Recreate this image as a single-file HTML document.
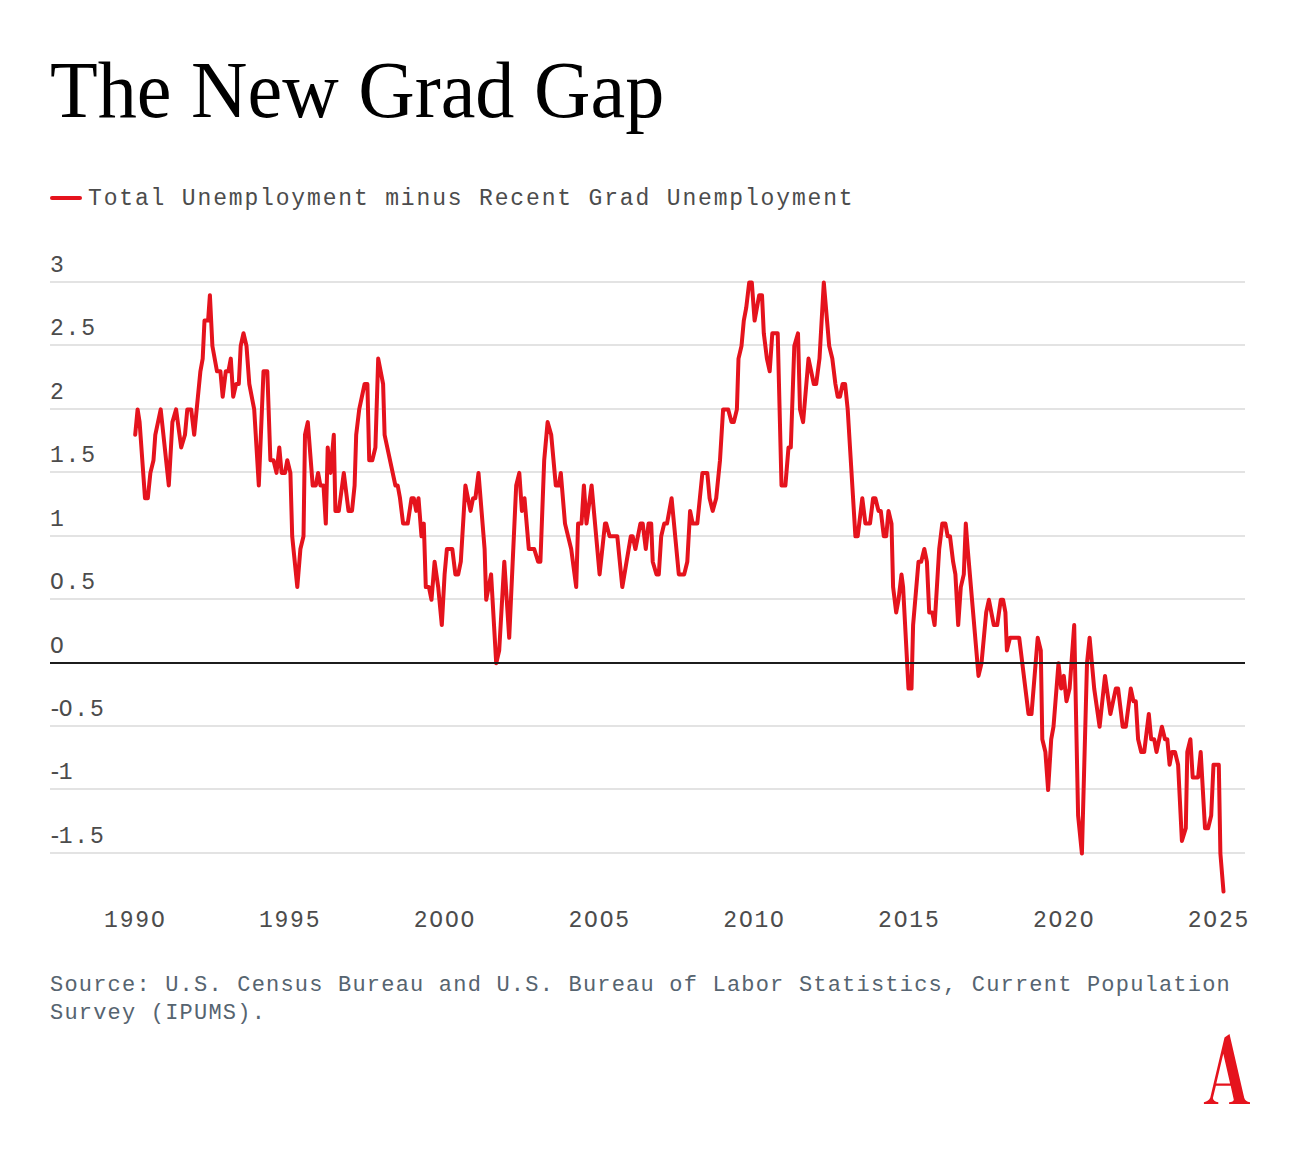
<!DOCTYPE html>
<html><head><meta charset="utf-8"><style>
html,body{margin:0;padding:0;background:#fff;width:1300px;height:1162px;overflow:hidden;position:relative}
.t{position:absolute;left:50px;top:50px;font-family:"Liberation Serif",serif;font-size:81px;color:#000;white-space:pre;transform:scaleX(0.965);transform-origin:0 0;line-height:1}
.lg{position:absolute;left:88px;top:187.8px;font-family:"Liberation Mono",monospace;font-size:23px;letter-spacing:1.84px;color:#4c4c4c;white-space:pre;line-height:1}
.yl{position:absolute;left:50px;font-family:"Liberation Mono",monospace;font-size:23px;letter-spacing:1.8px;color:#4c4c4c;white-space:pre;line-height:1}
.xl{position:absolute;top:909.5px;width:80px;text-align:center;font-family:"Liberation Mono",monospace;font-size:23px;letter-spacing:1.8px;color:#4c4c4c;white-space:pre;line-height:1}
.src{position:absolute;left:50px;top:972px;font-family:"Liberation Mono",monospace;font-size:22px;letter-spacing:1.2px;color:#566470;white-space:pre;line-height:28px}
svg{position:absolute;left:0;top:0}
.mn{margin-left:-2px;letter-spacing:-3.1px}
</style></head><body>
<div class="t">The New Grad Gap</div>
<svg width="1300" height="1162" viewBox="0 0 1300 1162">
<line x1="52" x2="80" y1="198" y2="198" stroke="#e5131d" stroke-width="4" stroke-linecap="round"/>
<line x1="50" x2="1245" y1="282.0" y2="282.0" stroke="#e3e3e3" stroke-width="2"/>
<line x1="50" x2="1245" y1="345.0" y2="345.0" stroke="#e3e3e3" stroke-width="2"/>
<line x1="50" x2="1245" y1="409.0" y2="409.0" stroke="#e3e3e3" stroke-width="2"/>
<line x1="50" x2="1245" y1="472.0" y2="472.0" stroke="#e3e3e3" stroke-width="2"/>
<line x1="50" x2="1245" y1="536.0" y2="536.0" stroke="#e3e3e3" stroke-width="2"/>
<line x1="50" x2="1245" y1="599.0" y2="599.0" stroke="#e3e3e3" stroke-width="2"/>
<line x1="50" x2="1245" y1="726.0" y2="726.0" stroke="#e3e3e3" stroke-width="2"/>
<line x1="50" x2="1245" y1="789.0" y2="789.0" stroke="#e3e3e3" stroke-width="2"/>
<line x1="50" x2="1245" y1="853.0" y2="853.0" stroke="#e3e3e3" stroke-width="2"/>

<path d="M135.2,434.8 L137.6,409.4 L139.6,422.1 L145.0,498.2 L147.8,498.2 L150.4,472.9 L153.5,460.2 L155.3,434.8 L160.7,409.4 L168.8,485.5 L172.4,422.1 L176.1,409.4 L181.2,447.5 L185.0,434.8 L187.3,409.4 L191.2,409.4 L194.2,434.8 L200.4,371.3 L202.7,358.6 L204.5,320.6 L208.1,320.6 L209.9,295.2 L212.4,346.0 L217.0,371.3 L220.4,371.3 L222.7,396.7 L225.8,371.3 L228.4,371.3 L230.8,358.6 L233.2,396.7 L236.1,384.0 L238.8,384.0 L240.7,346.0 L243.5,333.3 L246.5,346.0 L249.3,384.0 L254.2,409.4 L258.8,485.5 L263.5,371.3 L267.3,371.3 L270.4,460.2 L273.5,460.2 L276.5,472.9 L279.3,447.5 L281.6,472.9 L285.0,472.9 L287.3,460.2 L290.4,472.9 L292.2,536.3 L297.3,587.1 L300.4,549.0 L303.5,536.3 L305.0,434.8 L307.8,422.1 L312.7,485.5 L315.8,485.5 L318.1,472.9 L320.4,485.5 L323.5,485.5 L325.8,523.6 L327.7,447.5 L330.5,472.9 L333.8,434.8 L335.4,510.9 L338.8,510.9 L343.8,472.9 L348.5,510.9 L352.0,510.9 L354.6,485.5 L356.2,434.8 L359.2,409.4 L364.6,384.0 L367.4,384.0 L369.2,460.2 L372.3,460.2 L375.4,447.5 L378.2,358.6 L383.1,384.0 L384.6,434.8 L395.4,485.5 L397.7,485.5 L400.0,498.2 L403.1,523.6 L407.7,523.6 L411.5,498.2 L413.8,498.2 L416.2,510.9 L418.5,498.2 L421.5,536.3 L423.8,523.6 L425.8,587.1 L428.9,587.1 L431.5,599.8 L434.6,561.7 L438.2,587.1 L441.8,625.1 L444.6,574.4 L446.9,549.0 L452.3,549.0 L455.4,574.4 L458.2,574.4 L460.8,561.7 L465.4,485.5 L470.5,510.9 L473.1,498.2 L475.4,498.2 L478.5,472.9 L484.6,549.0 L486.2,599.8 L491.1,574.4 L496.2,663.2 L499.2,650.5 L504.3,561.7 L509.2,637.8 L516.2,485.5 L519.3,472.9 L521.9,510.9 L524.5,498.2 L528.8,549.0 L534.2,549.0 L538.1,561.7 L540.4,561.7 L544.2,460.2 L547.6,422.1 L551.2,434.8 L555.8,485.5 L558.8,485.5 L560.8,472.9 L565.0,523.6 L571.2,549.0 L576.2,587.1 L578.1,523.6 L581.5,523.6 L583.9,485.5 L586.5,523.6 L591.6,485.5 L599.6,574.4 L605.0,523.6 L606.2,523.6 L609.6,536.3 L617.3,536.3 L622.3,587.1 L630.8,536.3 L632.7,536.3 L635.4,549.0 L640.4,523.6 L642.7,523.6 L645.8,549.0 L648.5,523.6 L651.2,523.6 L652.7,561.7 L656.5,574.4 L658.8,574.4 L661.2,536.3 L664.2,523.6 L667.0,523.6 L671.6,498.2 L678.8,574.4 L684.2,574.4 L687.3,561.7 L690.1,510.9 L692.7,523.6 L697.3,523.6 L702.4,472.9 L707.3,472.9 L709.6,498.2 L712.7,510.9 L716.2,498.2 L720.0,460.2 L723.1,409.4 L728.2,409.4 L731.5,422.1 L733.8,422.1 L736.9,409.4 L738.5,358.6 L741.5,346.0 L743.8,320.6 L746.2,307.9 L749.2,282.5 L751.8,282.5 L754.6,320.6 L759.2,295.2 L762.0,295.2 L763.8,333.3 L766.9,358.6 L769.7,371.3 L772.3,333.3 L777.7,333.3 L781.5,485.5 L785.4,485.5 L788.5,447.5 L790.8,447.5 L794.3,346.0 L798.0,333.3 L800.0,409.4 L803.1,422.1 L808.5,358.6 L813.8,384.0 L816.2,384.0 L819.5,358.6 L823.8,282.5 L829.2,346.0 L832.3,358.6 L835.4,384.0 L837.7,396.7 L840.0,396.7 L842.6,384.0 L845.1,384.0 L847.7,409.4 L850.0,447.5 L855.4,536.3 L857.7,536.3 L862.3,498.2 L865.4,523.6 L870.0,523.6 L873.1,498.2 L875.4,498.2 L878.5,510.9 L880.8,510.9 L883.8,536.3 L886.2,536.3 L888.5,510.9 L891.5,523.6 L893.1,587.1 L896.2,612.4 L898.5,599.8 L901.5,574.4 L903.1,587.1 L908.5,688.6 L911.5,688.6 L913.1,625.1 L918.5,561.7 L921.2,561.7 L924.3,549.0 L926.9,561.7 L929.2,612.4 L932.3,612.4 L934.6,625.1 L939.2,549.0 L942.3,523.6 L945.4,523.6 L947.7,536.3 L950.0,536.3 L953.1,561.7 L955.4,574.4 L958.2,625.1 L960.8,587.1 L963.8,574.4 L965.8,523.6 L967.7,549.0 L978.5,675.9 L981.5,663.2 L986.2,612.4 L988.9,599.8 L993.8,625.1 L997.2,625.1 L1000.8,599.8 L1003.1,599.8 L1005.4,612.4 L1006.9,650.5 L1010.0,637.8 L1019.2,637.8 L1028.5,714.0 L1031.5,714.0 L1037.7,637.8 L1040.8,650.5 L1042.3,739.3 L1045.4,752.0 L1048.1,790.1 L1051.2,739.3 L1053.5,726.7 L1058.5,663.2 L1061.2,688.6 L1063.8,675.9 L1066.5,701.3 L1069.6,688.6 L1074.2,625.1 L1078.1,815.5 L1081.9,853.6 L1087.0,663.2 L1089.6,637.8 L1094.2,688.6 L1099.6,726.7 L1105.0,675.9 L1110.4,714.0 L1115.8,688.6 L1118.1,688.6 L1122.7,726.7 L1125.8,726.7 L1130.8,688.6 L1133.5,701.3 L1135.8,701.3 L1138.1,739.3 L1141.2,752.0 L1144.2,752.0 L1148.8,714.0 L1151.2,739.3 L1154.2,739.3 L1156.5,752.0 L1161.9,726.7 L1165.0,739.3 L1167.3,739.3 L1169.6,764.7 L1171.9,752.0 L1175.0,752.0 L1178.1,764.7 L1181.9,840.9 L1185.8,828.2 L1187.3,752.0 L1190.4,739.3 L1192.7,777.4 L1198.1,777.4 L1200.7,752.0 L1205.0,828.2 L1208.1,828.2 L1211.2,815.5 L1213.5,764.7 L1218.8,764.7 L1220.4,853.6 L1223.5,891.6" fill="none" stroke="#e5131d" stroke-width="4" stroke-linejoin="round" stroke-linecap="round"/>
<line x1="50" x2="1245" y1="663" y2="663" stroke="#1c1c1c" stroke-width="2"/>

<path fill="#e5131d" d="M1229.5,1033.9 L1224.5,1037.4 L1210.3,1097.6 Q1208.8,1101.3 1203.9,1102.3 L1203.9,1104 L1218.3,1104 L1218.3,1102.3 Q1213.2,1101.5 1212.9,1098 L1215.9,1085.8 L1230.7,1085.8 L1233.8,1099.7 Q1233.4,1101.7 1229.1,1102.3 L1229.1,1104 L1250,1104 L1250,1102.3 Q1245.2,1101.7 1244.2,1097.8 Z M1223.3,1053.7 L1216.3,1083.5 L1230.1,1083.5 Z" fill-rule="evenodd"/>
</svg>
<div class="lg">Total Unemployment minus Recent Grad Unemployment</div>
<div class="yl" style="top:255.0px">3</div>
<div class="yl" style="top:318.0px">2.5</div>
<div class="yl" style="top:382.0px">2</div>
<div class="yl" style="top:445.0px">1.5</div>
<div class="yl" style="top:509.0px">1</div>
<div class="yl" style="top:572.0px">O.5</div>
<div class="yl" style="top:636.0px">O</div>
<div class="yl" style="top:699.0px"><span class="mn">-</span>O.5</div>
<div class="yl" style="top:762.0px"><span class="mn">-</span>1</div>
<div class="yl" style="top:826.0px"><span class="mn">-</span>1.5</div>
<div class="xl" style="left:95.3px">199O</div>
<div class="xl" style="left:250.1px">1995</div>
<div class="xl" style="left:404.9px">2OOO</div>
<div class="xl" style="left:559.7px">2OO5</div>
<div class="xl" style="left:714.5px">2O1O</div>
<div class="xl" style="left:869.3px">2O15</div>
<div class="xl" style="left:1024.1px">2O2O</div>
<div class="xl" style="left:1178.9px">2O25</div>

<div class="src">Source: U.S. Census Bureau and U.S. Bureau of Labor Statistics, Current Population
Survey (IPUMS).</div>
</body></html>
